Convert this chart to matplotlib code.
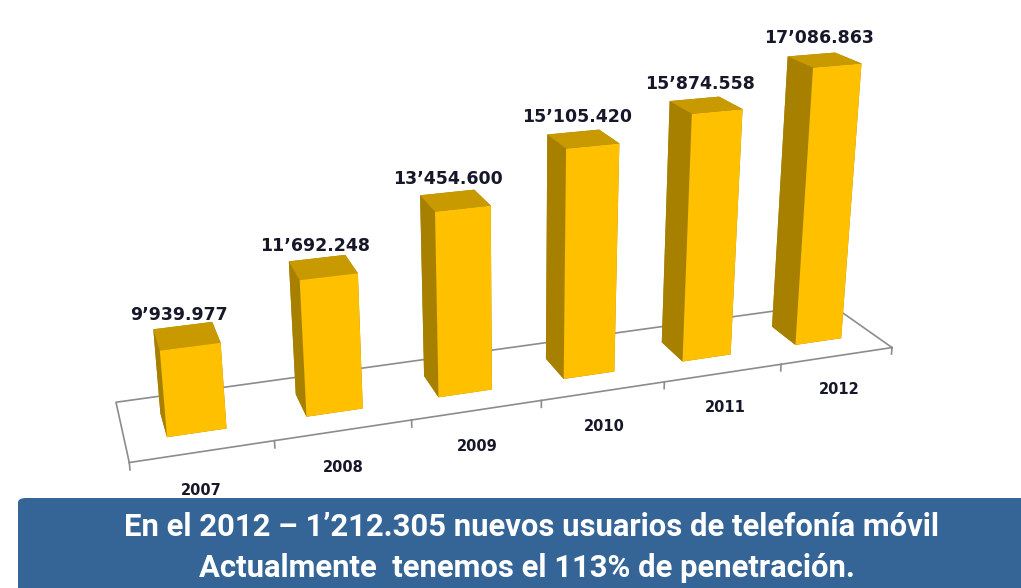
import numpy as np
import matplotlib
matplotlib.use("Agg")
import matplotlib.pyplot as plt
from matplotlib.patches import FancyBboxPatch

# datos
anios = ["2007", "2008", "2009", "2010", "2011", "2012"]
usuarios = [9939977, 11692248, 13454600, 15105420, 15874558, 17086863]
etiquetas = ["9’939.977", "11’692.248", "13’454.600",
             "15’105.420", "15’874.558", "17’086.863"]
nota = ["En el 2012 – 1’212.305 nuevos usuarios de telefonía móvil",
        "Actualmente  tenemos el 113% de penetración."]

Z0, Z1 = 7.0e6, 18.0e6
FRONT, TOP, SIDE = "#FFC000", "#C89A00", "#A88000"
INK = "#17172a"

fig = plt.figure(figsize=(10.21, 5.88), dpi=100)
ax = fig.add_axes([0.002, 0.172, 1.0, 0.88], projection="3d", computed_zorder=False)
ax.set_proj_type("persp", focal_length=0.55)
ax.view_init(elev=19, azim=-109)
ax.set_box_aspect((6, 1.0, 2.5), zoom=1.65)
ax.set_xlim(-0.5, 5.5)
ax.set_ylim(0, 1.0)
ax.set_zlim(Z0, Z1)
ax.set_axis_off()

x = np.arange(len(anios))
w, d = 0.42, 0.4
# caras: -z, +z, -y (frente), +y, -x (lado izq), +x
caras = [SIDE, TOP, FRONT, SIDE, SIDE, SIDE] * len(anios)
barras = ax.bar3d(x - w / 2, np.full(len(x), 0.3), np.full(len(x), Z0),
                  w, d, np.array(usuarios) - Z0, color=caras, shade=False, zorder=2)
barras.set_clip_on(False)

# piso
gris = "#8c8c8c"
xa, xb, ya, yb = -0.5, 5.5, 0.0, 1.0
lineas = ax.plot([xa, xa, xb, xb], [ya, yb, yb, ya], [Z0] * 4, color=gris, lw=1.2, zorder=1)
lineas += ax.plot([xa, xb], [ya, ya], [Z0, Z0], color=gris, lw=1.2, zorder=3)
for t in np.arange(xa, xb + 0.01, 1.0):
    lineas += ax.plot([t, t], [ya, ya], [Z0, Z0 - 0.25e6], color=gris, lw=1.2, zorder=3)
for ln in lineas:
    ln.set_clip_on(False)

for xi, v, lab in zip(x, usuarios, etiquetas):
    ax.text(xi - 0.05, 0.5, v + 0.45e6, lab, ha="center", va="bottom", family="DejaVu Sans",
            fontsize=12.5, fontweight="bold", color=INK, zorder=5)
for xi, a in zip(x, anios):
    ax.text(xi - 0.05, -0.15, Z0 - 0.95e6, a, ha="center", va="center", family="DejaVu Sans",
            fontsize=10.5, fontweight="bold", color=INK, zorder=5)

banner = FancyBboxPatch((18 / 1021, -0.05), 1.0, 0.05 + 90 / 588, transform=fig.transFigure,
                        boxstyle="round,pad=0,rounding_size=0.008",
                        facecolor="#346596", edgecolor="none", zorder=10)
fig.patches.append(banner)
fig.text(0.521, 1 - 527 / 588, nota[0], ha="center", va="center", fontsize=22.3,
         family="Roboto", fontweight="bold", color="white", zorder=11)
fig.text(0.516, 1 - 568 / 588, nota[1], ha="center", va="center", fontsize=22.3,
         family="Roboto", fontweight="bold", color="white", zorder=11)

fig.savefig("out.png", dpi=100, facecolor="white")
